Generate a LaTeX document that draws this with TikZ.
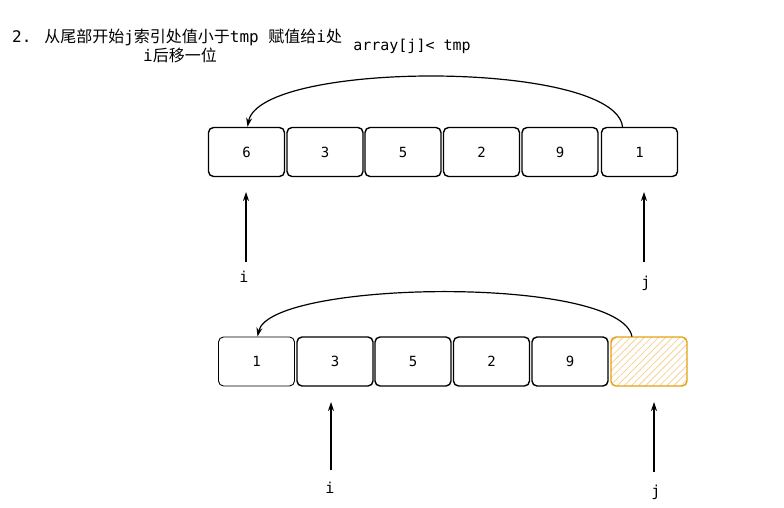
\documentclass[tikz,border=0pt]{standalone}
\usepackage{fontspec}
\setmainfont{DejaVu Sans Mono}
\newfontfamily\cjk{Noto Sans CJK SC}
\usetikzlibrary{arrows.meta,patterns.meta}
\definecolor{tmporange}{RGB}{230,160,20}
\tikzset{
  cell/.style={draw=black, line width=1.4pt, rounded corners=5pt, minimum width=76pt, minimum height=49pt, font=\fontsize{14}{16}\selectfont},
  ptr/.style={-{Stealth[length=9pt,width=6pt]}, line width=1.2pt},
  lab/.style={font=\fontsize{15}{17}\selectfont}
}
\begin{document}
\begin{tikzpicture}[x=1pt,y=-1pt]
\useasboundingbox (0,0) rectangle (784,508);
\node[lab, anchor=west, inner sep=0pt, font=\fontsize{16}{18}\selectfont] (title) at (12,37) {2. {\cjk 从尾部开始}j{\cjk 索引处值小于}tmp {\cjk 赋值给}i{\cjk 处}};
\node[lab, font=\fontsize{16}{18}\selectfont] (title2) at (180,55) {i{\cjk 后移一位}};
\node[lab] (cond) at (412,46) {array[j]< tmp};

% first row
\node[cell] (a1) at (246.5,152) {6};
\node[cell] (a2) at (325,152) {3};
\node[cell] (a3) at (403,152) {5};
\node[cell] (a4) at (481.5,152) {2};
\node[cell] (a5) at (560,152) {9};
\node[cell] (a6) at (639.5,152) {1};
\draw[ptr] ([xshift=-17pt]a6.north) .. controls (615,60) and (260,60) .. ([xshift=1pt]a1.north);
\node[lab] (i1) at (244,277) {i};
\node[lab] (j1) at (646,283) {j};
\draw[ptr] (246,262) -- (246,192);
\draw[ptr] (644,262) -- (644,192);

% second row
\node[cell, line width=0.9pt] (b1) at (256.5,361.5) {1};
\node[cell] (b2) at (335,361.5) {3};
\node[cell] (b3) at (413,361.5) {5};
\node[cell] (b4) at (491.5,361.5) {2};
\node[cell] (b5) at (570,361.5) {9};
\node[cell, draw=tmporange, pattern={Lines[angle=45,distance=5pt,line width=0.8pt]}, pattern color=tmporange!45] (b6) at (649,361.5) {};
\draw[ptr] ([xshift=-17pt]b6.north) .. controls (620,275) and (270,280) .. ([xshift=1pt]b1.north);
\node[lab] (i2) at (330,488) {i};
\node[lab] (j2) at (656,492) {j};
\draw[ptr] (331,470) -- (331,402);
\draw[ptr] (654,472) -- (654,402);
\end{tikzpicture}
\end{document}
